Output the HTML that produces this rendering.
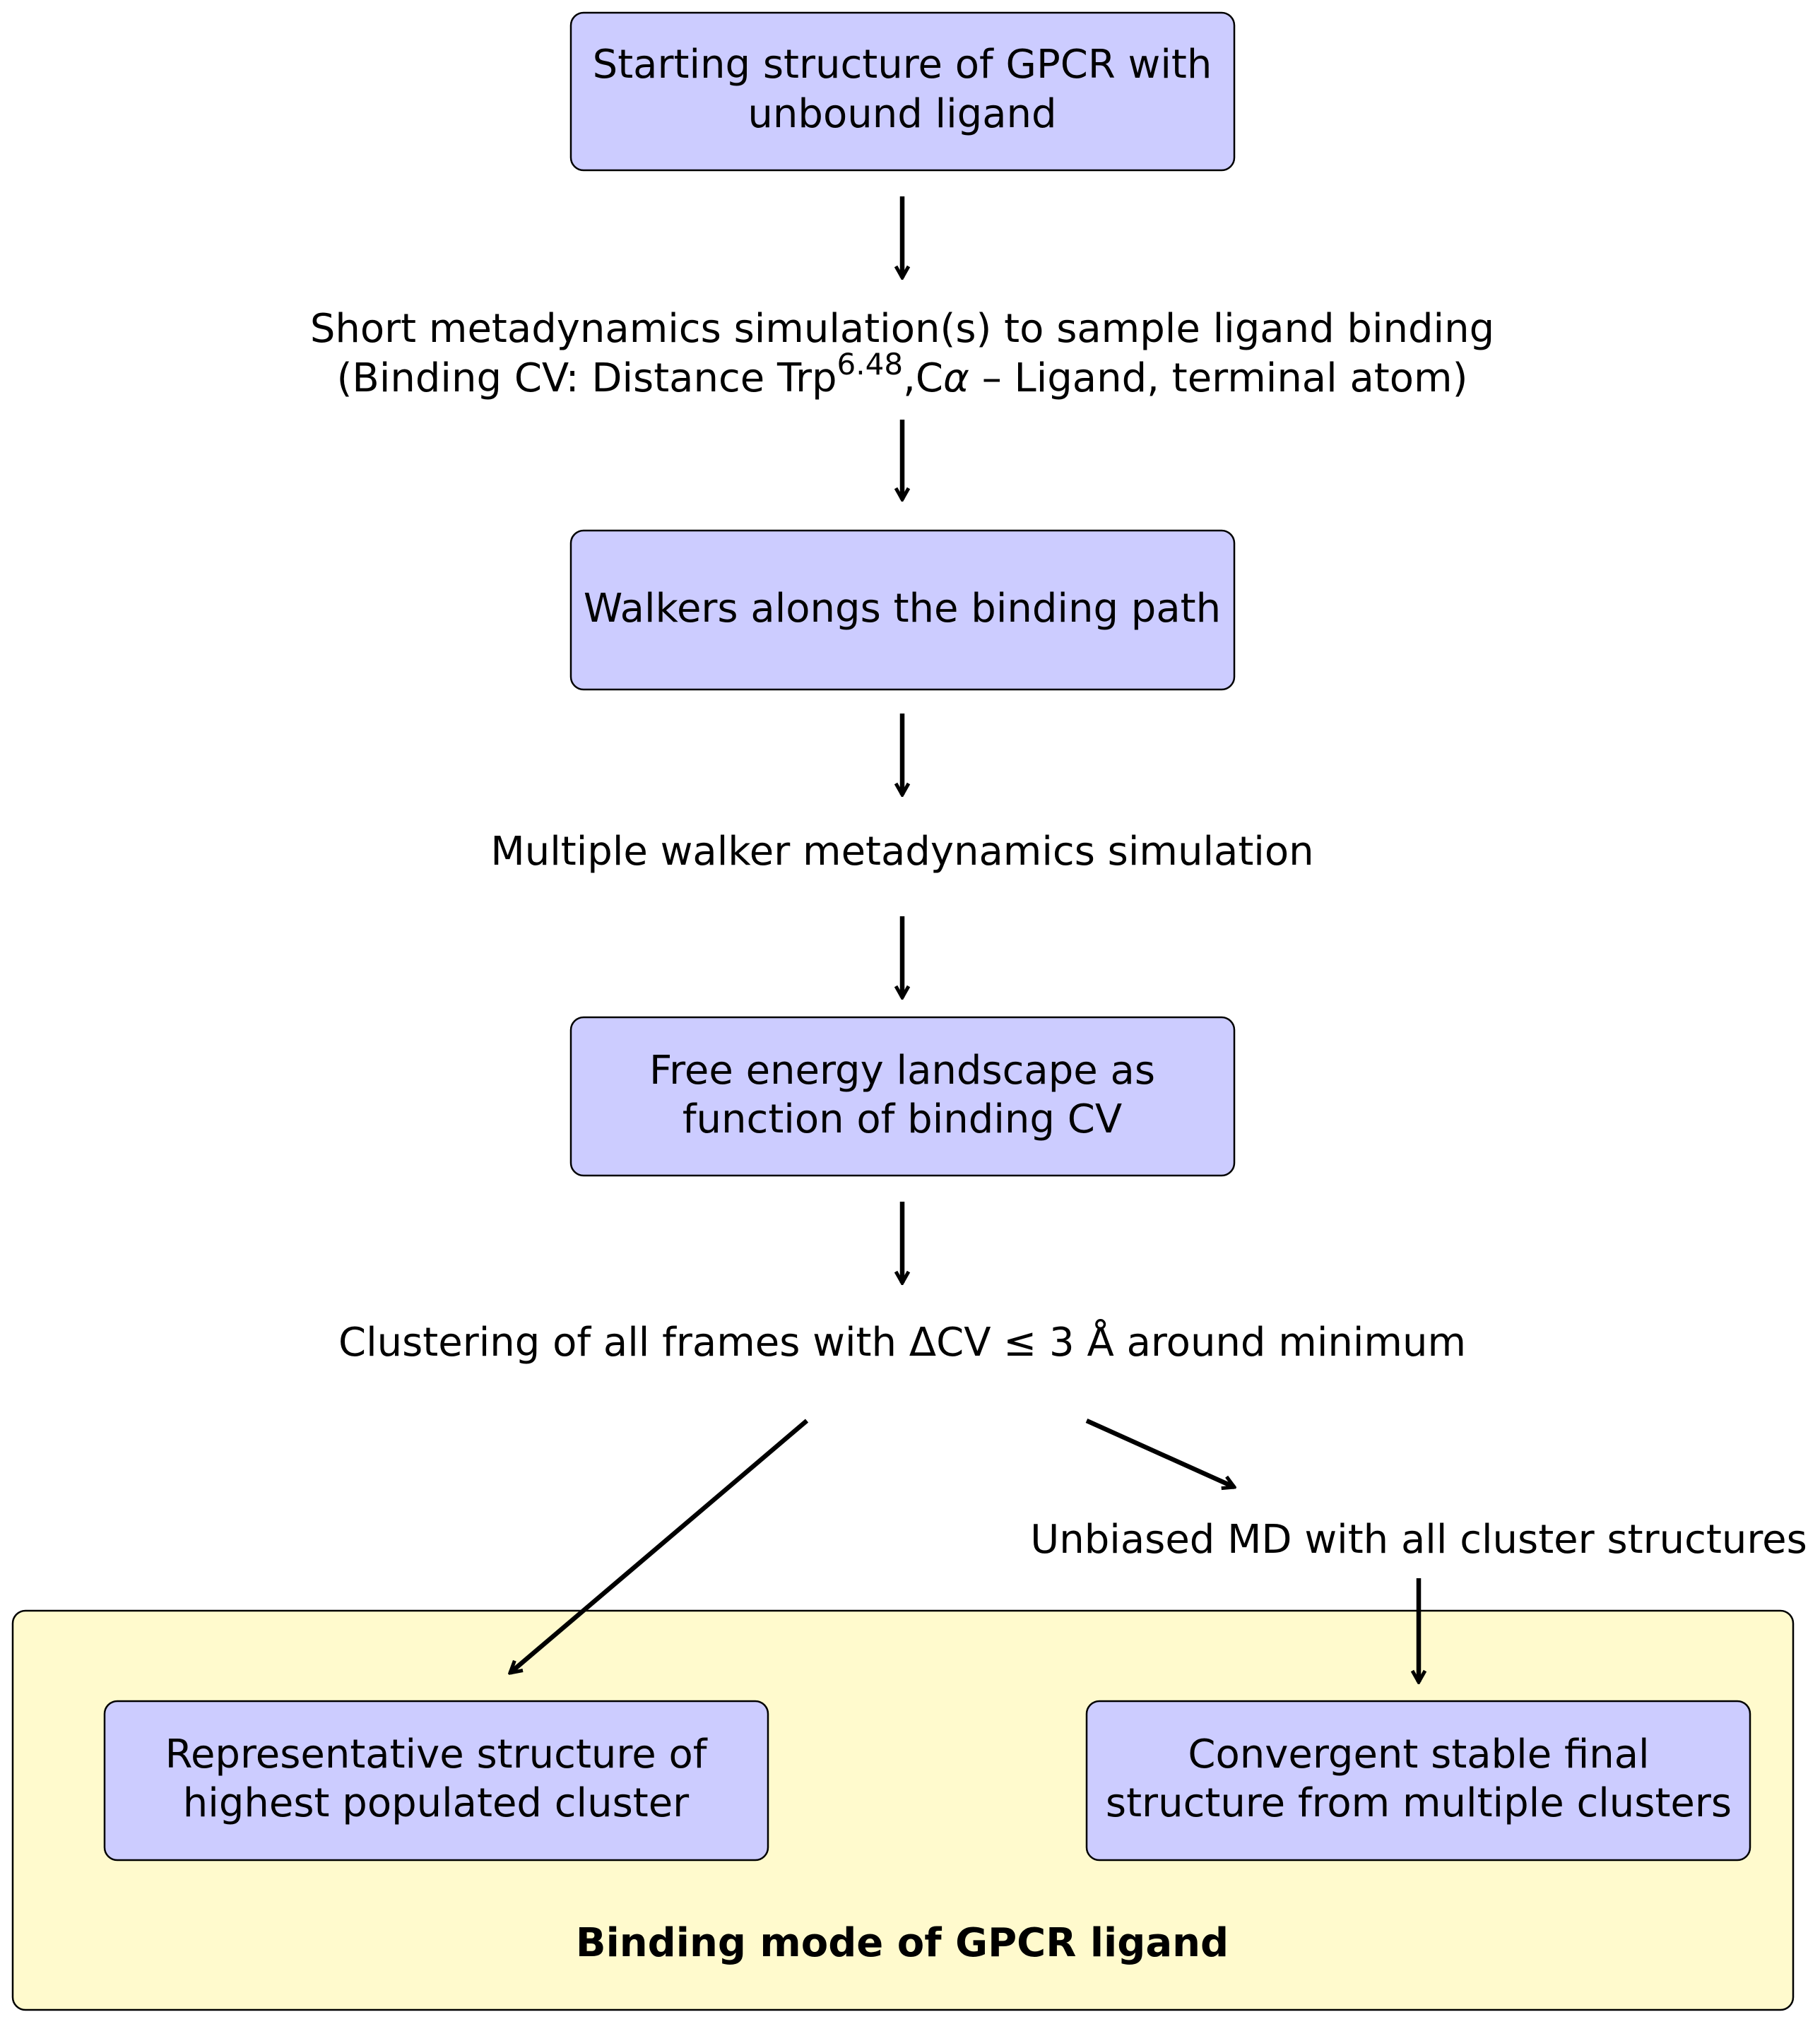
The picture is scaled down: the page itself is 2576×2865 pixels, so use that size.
<!DOCTYPE html>
<html><head><style>html,body{margin:0;padding:0;background:#fff}</style></head>
<body>
<svg width="2576" height="2860" viewBox="0 0 2576 2860" xmlns="http://www.w3.org/2000/svg" font-family="DejaVu Sans, Liberation Sans, sans-serif" font-size="56" text-anchor="middle">
<defs>
<marker id="a" viewBox="0 0 24 24" refX="21" refY="12" markerWidth="24" markerHeight="24" markerUnits="userSpaceOnUse" orient="auto">
<path d="M5,3 L21,12 L5,21" fill="none" stroke="#000" stroke-width="5"/>
</marker>
</defs>
<rect x="18" y="2280" width="2520" height="565" rx="18" fill="#fffacd" stroke="#000" stroke-width="2.5"/>
<g fill="#ccccff" stroke="#000" stroke-width="2.5">
<rect x="808" y="18" width="939" height="223" rx="18"/>
<rect x="808" y="751" width="939" height="225" rx="18"/>
<rect x="808" y="1440" width="939" height="224" rx="18"/>
<rect x="148" y="2408" width="939" height="225" rx="18"/>
<rect x="1538" y="2408" width="939" height="225" rx="18"/>
</g>
<g stroke="#000" stroke-width="6.5" marker-end="url(#a)">
<line x1="1277" y1="278" x2="1277" y2="393"/>
<line x1="1277" y1="594" x2="1277" y2="707"/>
<line x1="1277" y1="1010" x2="1277" y2="1125"/>
<line x1="1277" y1="1297" x2="1277" y2="1412"/>
<line x1="1277" y1="1701" x2="1277" y2="1816"/>
<line x1="1142" y1="2011" x2="722" y2="2368"/>
<line x1="1538" y1="2011" x2="1747" y2="2105"/>
<line x1="2008" y1="2234" x2="2008" y2="2381"/>
</g>
<g fill="#000">
<text x="1277" y="110">Starting structure of GPCR with</text>
<text x="1277" y="180">unbound ligand</text>
<text x="1277" y="484">Short metadynamics simulation(s) to sample ligand binding</text>
<text x="1277" y="554">(Binding CV: Distance Trp<tspan font-size="42" dy="-24">6.48</tspan><tspan dy="24">,C</tspan><tspan font-style="italic">α</tspan> – Ligand, terminal atom)</text>
<text x="1277" y="880">Walkers alongs the binding path</text>
<text x="1277" y="1224">Multiple walker metadynamics simulation</text>
<text x="1277" y="1534">Free energy landscape as</text>
<text x="1277" y="1603">function of binding CV</text>
<text x="1277" y="1919">Clustering of all frames with ΔCV ≤ 3 Å around minimum</text>
<text x="2008" y="2198">Unbiased MD with all cluster structures</text>
<text x="617" y="2502">Representative structure of</text>
<text x="617" y="2571">highest populated cluster</text>
<text x="2008" y="2502">Convergent stable final</text>
<text x="2008" y="2571">structure from multiple clusters</text>
<text x="1277" y="2769" font-weight="bold">Binding mode of GPCR ligand</text>
</g>
</svg>
</body></html>
